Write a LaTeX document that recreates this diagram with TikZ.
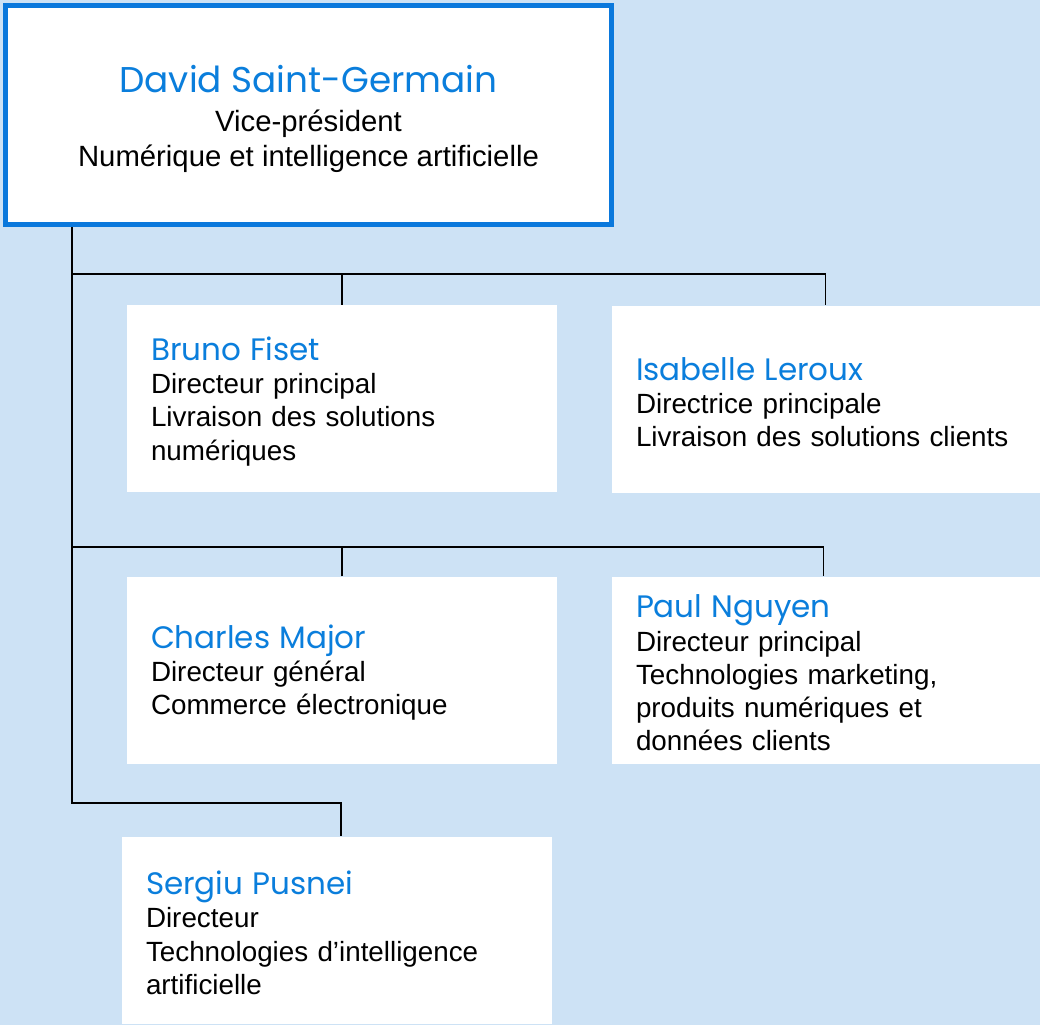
\documentclass[tikz,border=0pt]{standalone}
\usepackage{fontspec}
\setmainfont{Liberation Sans}
\newfontfamily\namefont{Poppins}
\definecolor{bgblue}{HTML}{CDE2F5}
\definecolor{topblue}{HTML}{0A78DC}
\definecolor{nameblue}{HTML}{0A7EDC}
\newcommand{\pname}[1]{\rule{0pt}{29pt}{\namefont\fontsize{31}{33}\selectfont\color{nameblue}#1}}
\begin{document}
\begin{tikzpicture}[x=1pt,y=-1pt,
  card/.style={fill=white, draw=none, rectangle, minimum width=430pt, minimum height=187pt,
    inner xsep=24pt, text width=382pt, align=left,
    font=\fontsize{27.8}{33.3}\selectfont},
  conn/.style={draw=black, line width=1.7pt}]
\useasboundingbox (0,0) rectangle (1040,1025);
\fill[bgblue] (0,0) rectangle (1040,1025);
\node[draw=topblue, line width=5pt, fill=white, minimum width=606pt, minimum height=219pt] (top) at (308.5,115) {};
\node[align=center, font=\fontsize{29.3}{35}\selectfont] (toptext) at (308.5,119)
  {{\namefont\fontsize{35.8}{40}\selectfont\color{nameblue}David Saint-Germain}\\[4pt]Vice-président\\Numérique et intelligence artificielle};
\node[card] (bruno) at (342,398.5) {\pname{Bruno Fiset}\\Directeur principal\\Livraison des solutions\\numériques};
\node[card] (isabelle) at (827,399) {\pname{Isabelle Leroux}\\Directrice principale\\Livraison des solutions clients};
\node[card] (charles) at (342,670) {\pname{Charles Major}\\Directeur général\\Commerce électronique};
\node[card] (paul) at (827,670) {\pname{Paul Nguyen}\\Directeur principal\\Technologies marketing,\\produits numériques et\\données clients};
\node[card] (sergiu) at (337,930) {\pname{Sergiu Pusnei}\\Directeur\\Technologies d’intelligence\\artificielle};
\coordinate (j1) at (72,274);
\coordinate (j2) at (72,547);
\coordinate (j3) at (72,803);
\draw[conn] (top.south -| j1) -- (j3) -| ([xshift=4pt]sergiu.north);
\draw[conn] (j1) -| ([xshift=-1.5pt]isabelle.north);
\draw[conn] (bruno.north) -- (bruno.north |- j1);
\draw[conn] (j2) -| ([xshift=-3.5pt]paul.north);
\draw[conn] (charles.north) -- (charles.north |- j2);
\end{tikzpicture}
\end{document}
